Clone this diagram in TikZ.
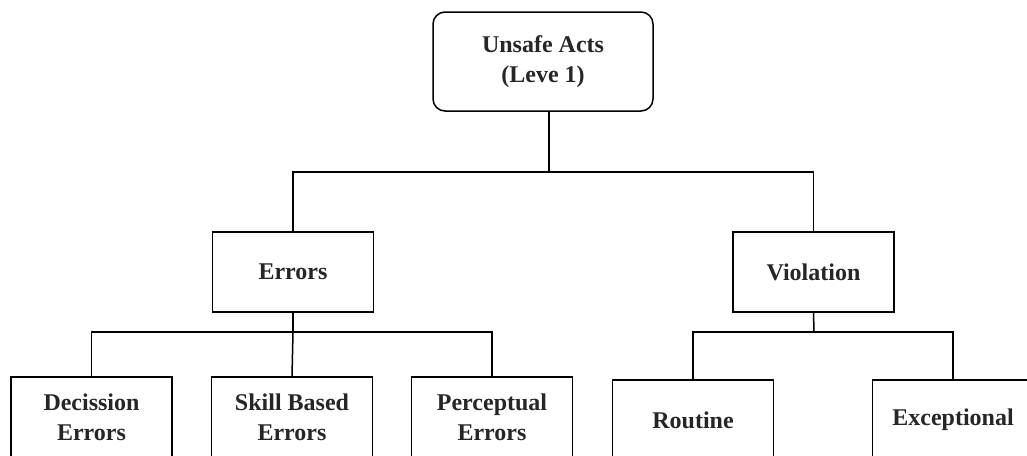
\documentclass[tikz,border=0pt]{standalone}
\usepackage{fontspec}
\setmainfont{Liberation Serif}
\begin{document}
\begin{tikzpicture}[x=1pt,y=-1pt,
  box/.style={draw=black,line width=1.5pt,fill=white,minimum width=161pt,minimum height=80pt,inner sep=0pt,align=center,font=\fontsize{24}{30}\selectfont\bfseries,text=black!85},
  topbox/.style={box,rounded corners=12pt,minimum width=220pt,minimum height=99pt},
  link/.style={draw=black,line width=1.5pt}]
\useasboundingbox (0,0) rectangle (1027,455);
\clip (0,0) rectangle (1027,455);
\fill[white] (0,0) rectangle (1027,455);
\node[topbox] (top) at (543,61.5) {Unsafe Acts\\(Leve 1)};
\node[box] (err) at (293,272) {Errors};
\node[box] (vio) at (813.5,272) {Violation};
\node[box] (dec) at (91.5,417) {Decission\\Errors};
\node[box] (ski) at (292,417) {Skill Based\\Errors};
\node[box] (per) at (492,417) {Perceptual\\Errors};
\node[box] (rou) at (693,420) {Routine};
\node[box] (exc) at (953,420) {Exceptional};
\coordinate (ts) at (549,111);
\coordinate (j1) at (549,172);
\coordinate (j2) at (293,332);
\coordinate (j3) at (814,332);
\draw[link] (ts) -- (j1);
\draw[link] (err.north) |- (j1) -| (vio.north);
\draw[link] (err.south) -- (j2);
\draw[link] (dec.north) |- (j2) -| (per.north);
\draw[link] (ski.north) -- (j2);
\draw[link] (vio.south) -- (j3);
\draw[link] (rou.north) |- (j3) -| (exc.north);
\end{tikzpicture}
\end{document}
